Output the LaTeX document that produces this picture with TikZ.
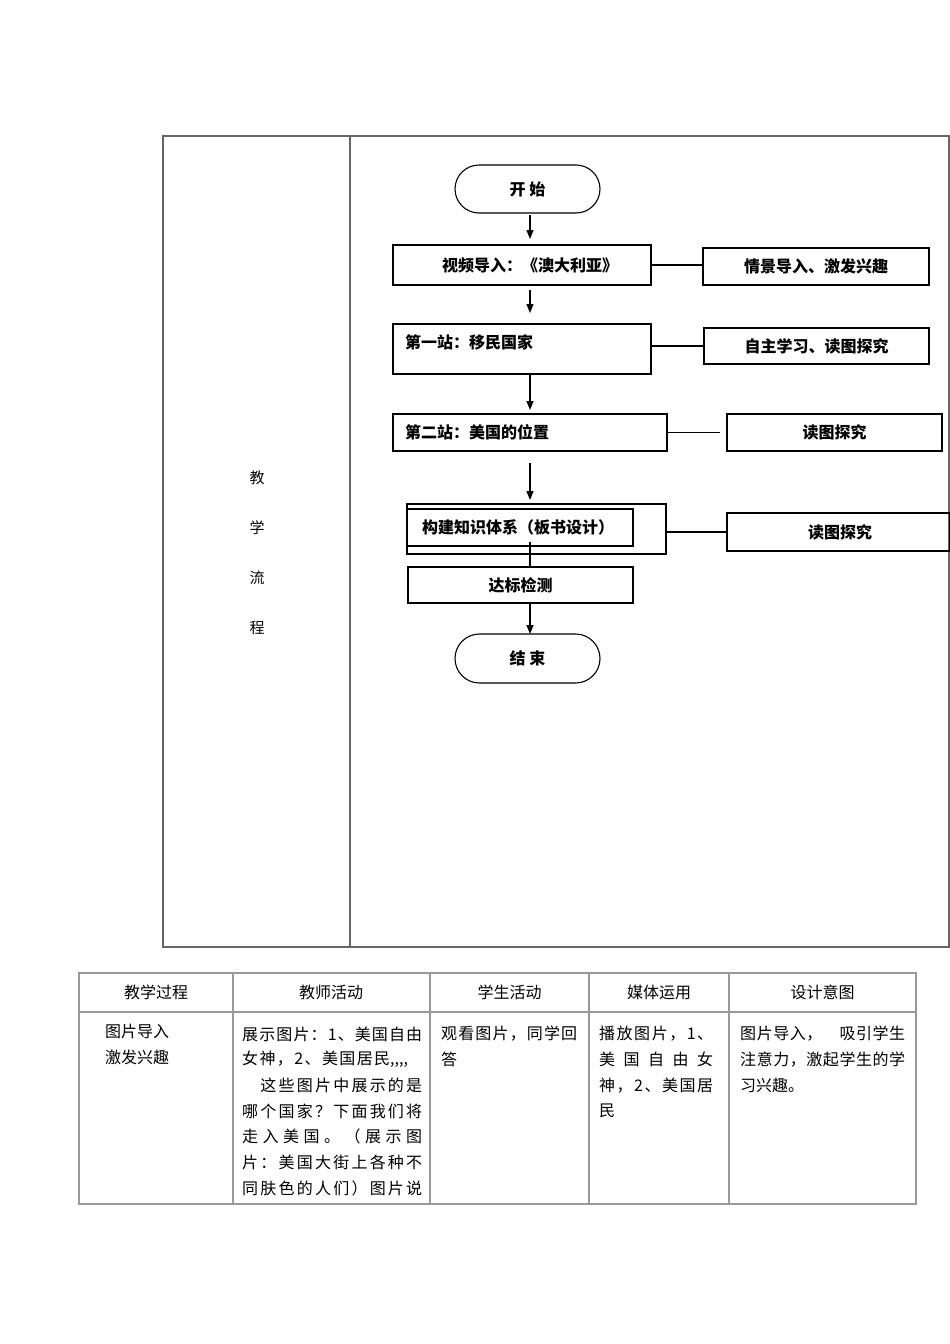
\documentclass[tikz,border=0pt]{standalone}
\usepackage{fontspec}
\newfontfamily\cjk{Noto Sans CJK SC}
\usetikzlibrary{arrows.meta,shapes.misc}
\def\myg#1{}\def\myf#1{#1}
\def\spr#1#2{#1\ifx\relax#2\expandafter\myg\else\hfill\expandafter\myf\fi{\spr#2}}
\newcommand\jline[2]{\makebox[#1pt][l]{\spr#2\relax}}
\begin{document}
\begin{tikzpicture}[x=1pt,y=-1pt,font=\cjk,
  box/.style={draw, line width=1.1pt, inner sep=0pt, outer sep=0pt},
  term/.style={draw, line width=1.1pt, rounded rectangle, minimum width=145pt, inner sep=0pt, outer sep=0pt, font=\cjk\bfseries\fontsize{16}{16}\selectfont},
  ft/.style={font=\cjk\bfseries\fontsize{16}{16}\selectfont, inner sep=0pt},
  arr/.style={-{Triangle[length=9pt,width=7pt]}, line width=1.1pt},
  lnk/.style={line width=1.1pt},
  frame/.style={draw=black!60, line width=1.3pt},
  grid/.style={draw=black!40, line width=1.2pt},
  lt/.style={font=\cjk\fontsize{15}{15}\selectfont, inner sep=0pt},
  hd/.style={font=\cjk\fontsize{16}{16}\selectfont, inner sep=0pt},
  tt/.style={font=\cjk\fontsize{16}{16}\selectfont, inner sep=0pt, anchor=west},
]
\useasboundingbox (0,0) rectangle (950,1344);
\fill[white] (0,0) rectangle (950,1344);

% outer frame
\draw[frame] (163,136) rectangle (949,947);
\draw[frame] (350,136) -- (350,947);
\node[lt] (l1) at (257,478) {教};
\node[lt] (l2) at (257,528) {学};
\node[lt] (l3) at (257,578) {流};
\node[lt] (l4) at (257,628) {程};

\coordinate (cx) at (530,0);

% terminals
\node[term, minimum height=48pt] (start) at (527.5,189) {开\ 始};
\node[term, minimum height=49pt] (end) at (527.5,658.5) {结\ 束};

% main boxes
\node[box, minimum width=258pt, minimum height=40pt] (b1) at (522,265) {};
\node[ft] (t1) at (530,265) {视频导入：《澳大利亚》};
\node[box, minimum width=258pt, minimum height=50pt] (b2) at (522,349) {};
\node[ft, anchor=west] (t2) at (405,342) {第一站：移民国家};
\node[box, minimum width=274pt, minimum height=37pt] (b3) at (530,432.5) {};
\node[ft, anchor=west] (t3) at (405,432) {第二站：美国的位置};
\node[box, minimum width=259pt, minimum height=50pt] (b4o) at (536.5,529) {};
\node[box, minimum width=226pt, minimum height=37pt] (b4i) at (520,527.5) {};
\node[ft] (t4) at (518,527) {构建知识体系（板书设计）};
\node[box, minimum width=225pt, minimum height=36pt, font=\cjk\bfseries\fontsize{16}{16}\selectfont] (b5) at (520.5,585) {达标检测};

% right boxes
\node[box, minimum width=226pt, minimum height=37pt, font=\cjk\bfseries\fontsize{16}{16}\selectfont] (r1) at (816,266.5) {情景导入、激发兴趣};
\node[box, minimum width=225pt, minimum height=36pt, font=\cjk\bfseries\fontsize{16}{16}\selectfont] (r2) at (816.5,346) {自主学习、读图探究};
\node[box, minimum width=215pt, minimum height=37pt, font=\cjk\bfseries\fontsize{16}{16}\selectfont] (r3) at (834.5,432.5) {读图探究};
\node[box, minimum width=223pt, minimum height=38pt] (r4) at (838.5,532) {};
\node[ft] (t5) at (840,532) {读图探究};

% arrows
\draw[arr, shorten <=2pt, shorten >=6pt] (start.south -| cx) -- (b1.north -| cx);
\draw[arr, shorten <=5pt, shorten >=11pt] (b1.south -| cx) -- (b2.north -| cx);
\draw[arr, shorten >=4pt] (b2.south -| cx) -- (b3.north -| cx);
\draw[arr, shorten <=12pt, shorten >=4pt] (b3.south -| cx) -- (b4o.north -| cx);
\coordinate (k4) at (530,542);
\draw[lnk] (b5.north -| cx) -- (k4);
\draw[arr] (b5.south -| cx) -- (end.north -| cx);

% links
\draw[lnk] (b1.east) -- (b1.east -| r1.west);
\draw[lnk] (r2.west) -- (r2.west -| b2.east);
\draw[lnk, shorten >=7pt] (b3.east) -- (b3.east -| r3.west);
\draw[lnk] (r4.west) -- (r4.west -| b4o.east);

% table
\draw[grid] (79,973) rectangle (916,1204);
\draw[grid] (79,1012) -- (916,1012);
\foreach \xx in {233,430,589,729} \draw[grid] (\xx,973) -- (\xx,1204);
\node[hd] (h1) at (156,992) {教学过程};
\node[hd] (h2) at (331,992) {教师活动};
\node[hd] (h3) at (509.5,992) {学生活动};
\node[hd] (h4) at (659,992) {媒体运用};
\node[hd] (h5) at (822.5,992) {设计意图};

\node[tt] (c1a) at (105,1031) {图片导入};
\node[tt] (c1b) at (105,1057) {激发兴趣};

\node[tt] (c2a) at (242,1034) {\jline{180}{展示图片：1、美国自由}};
\node[tt] (c2b) at (242,1059.7) {\jline{148}{女神，2、美国居民},,,,};
\node[tt] (c2c) at (242,1085.4) {\jline{180}{　这些图片中展示的是}};
\node[tt] (c2d) at (242,1111.1) {\jline{180}{哪个国家？下面我们将}};
\node[tt] (c2e) at (242,1136.8) {\jline{180}{走入美国。（展示图}};
\node[tt] (c2f) at (242,1162.5) {\jline{180}{片：美国大街上各种不}};
\node[tt] (c2g) at (242,1188.2) {\jline{180}{同肤色的人们）图片说}};

\node[tt] (c3a) at (441,1034) {\jline{136}{观看图片，同学回}};
\node[tt] (c3b) at (441,1059.7) {答};

\node[tt] (c4a) at (599,1034) {\jline{114}{播放图片，1、}};
\node[tt] (c4b) at (599,1059.7) {\jline{114}{美国自由女}};
\node[tt] (c4c) at (599,1085.4) {\jline{114}{神，2、美国居}};
\node[tt] (c4d) at (599,1111.1) {民};

\node[tt] (c5a) at (740,1034) {\jline{165}{图片导入，　吸引学生}};
\node[tt] (c5b) at (740,1059.7) {\jline{165}{注意力，激起学生的学}};
\node[tt] (c5c) at (740,1085.4) {习兴趣。};
\end{tikzpicture}
\end{document}
